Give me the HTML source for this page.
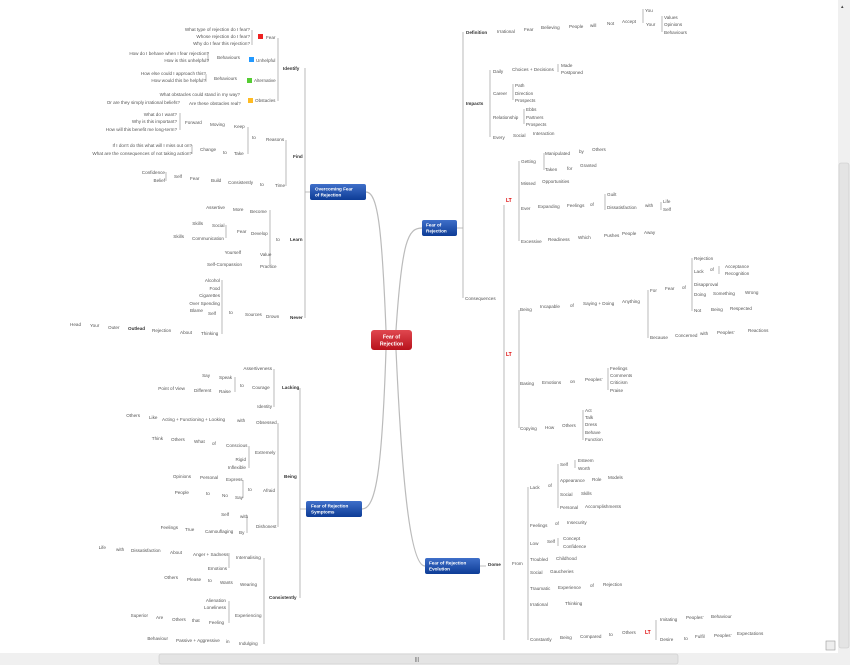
<!DOCTYPE html>
<html><head><meta charset="utf-8"><style>
html,body{margin:0;padding:0;background:#fff;}
svg{display:block;font-family:"Liberation Sans",sans-serif;}
text{font-size:4.6px;fill:#555;}
.b{font-weight:bold;fill:#333;}
.e{text-anchor:end;}
.l{stroke:#aaa;stroke-width:0.8;fill:none;}
.c{stroke:#bbb;stroke-width:1.2;fill:none;}
.r{fill:#d00;font-weight:bold;}
</style></head><body>
<svg width="850" height="665" viewBox="0 0 850 665">
<defs>
<linearGradient id="bl" x1="0" y1="0" x2="0" y2="1"><stop offset="0" stop-color="#3f6fc9"/><stop offset="1" stop-color="#0d3c96"/></linearGradient>
<linearGradient id="rd" x1="0" y1="0" x2="0" y2="1"><stop offset="0" stop-color="#e0474f"/><stop offset="1" stop-color="#b8121c"/></linearGradient>
</defs>
<path class="c" d="M386 330 C382 230 378 192 366 192"/>
<path class="c" d="M396 330 C402 240 408 228 422 228"/>
<path class="c" d="M386 350 C382 470 376 509 362 509"/>
<path class="c" d="M396 350 C402 480 410 566 425 566"/>
<rect x="371" y="330" width="41" height="20" rx="3" fill="url(#rd)"/>
<text x="391.5" y="338.5" style="fill:#fff;font-weight:bold;font-size:5.2px;text-anchor:middle">Fear of</text>
<text x="391.5" y="345.5" style="fill:#fff;font-weight:bold;font-size:5.2px;text-anchor:middle">Rejection</text>
<rect x="310" y="184" width="56" height="16" rx="2" fill="url(#bl)"/>
<text x="315" y="190.5" style="fill:#fff;font-weight:bold;font-size:4.6px">Overcoming Fear</text>
<text x="315" y="196.5" style="fill:#fff;font-weight:bold;font-size:4.6px">of Rejection</text>
<rect x="422" y="220" width="35" height="16" rx="2" fill="url(#bl)"/>
<text x="426" y="226.5" style="fill:#fff;font-weight:bold;font-size:4.6px">Fear of</text>
<text x="426" y="232.5" style="fill:#fff;font-weight:bold;font-size:4.6px">Rejection</text>
<rect x="306" y="501" width="56" height="16" rx="2" fill="url(#bl)"/>
<text x="311" y="507.5" style="fill:#fff;font-weight:bold;font-size:4.6px">Fear of Rejection</text>
<text x="311" y="513.5" style="fill:#fff;font-weight:bold;font-size:4.6px">Symptoms</text>
<rect x="425" y="558" width="55" height="16" rx="2" fill="url(#bl)"/>
<text x="429" y="564.5" style="fill:#fff;font-weight:bold;font-size:4.6px">Fear of Rejection</text>
<text x="429" y="570.5" style="fill:#fff;font-weight:bold;font-size:4.6px">Evolution</text>

<path class="l" d="M305 68 V318 M305 192 H310 M278 38 V101 M286 140 V186 M270 210 V267 M222 280 V334 M252 30 V45 M248 127 V154 M226 225 V238 M208 52 V62 M206 74 V82 M180 113 V130 M192 145 V154 M166 172 V181"/>
<text x="250" y="31" class="e">What type of rejection do I fear?</text>
<text x="250" y="38" class="e">Whose rejection do I fear?</text>
<text x="250" y="45" class="e">Why do I fear this rejection?</text>
<rect x="258" y="34" width="5" height="5" fill="#e22"/><text x="266" y="39">Fear</text>
<text x="209" y="55" class="e">How do I behave when I fear rejection?</text>
<text x="209" y="62" class="e">How is this unhelpful?</text>
<text x="217" y="59">Behaviours</text>
<rect x="249" y="57" width="5" height="5" fill="#29f"/><text x="256" y="62">Unhelpful</text>
<text x="206" y="75" class="e">How else could I approach this?</text>
<text x="206" y="82" class="e">How would this be helpful?</text>
<text x="214" y="80">Behaviours</text>
<rect x="247" y="78" width="5" height="5" fill="#5c3"/><text x="254" y="82">Alternative</text>
<text x="240" y="96" class="e">What obstacles could stand in my way?</text>
<text x="180" y="104" class="e">Or are they simply irrational beliefs?</text>
<text x="189" y="105">Are these obstacles real?</text>
<rect x="248" y="98" width="5" height="5" fill="#fb2"/><text x="255" y="102">Obstacles</text>
<text x="283" y="70" class="b">Identify</text>
<text x="177" y="116" class="e">What do I want?</text>
<text x="177" y="123" class="e">Why is this important?</text>
<text x="177" y="131" class="e">How will this benefit me long-term?</text>
<text x="185" y="124">Forward</text><text x="210" y="126">Moving</text><text x="234" y="128">Keep</text>
<text x="192" y="147" class="e">If I don't do this what will I miss out on?</text>
<text x="192" y="155" class="e">What are the consequences of not taking action?</text>
<text x="200" y="151">Change</text><text x="223" y="154">to</text><text x="234" y="155">Take</text>
<text x="252" y="139">to</text><text x="266" y="141">Reasons</text>
<text x="165" y="174" class="e">Confidence</text><text x="165" y="182" class="e">Belief</text>
<text x="174" y="178">Self</text><text x="190" y="180">Fear</text><text x="211" y="182">Build</text><text x="228" y="184">Consistently</text><text x="260" y="186">to</text><text x="275" y="187">Time</text>
<text x="293" y="158" class="b">Find</text>
<text x="225" y="209" class="e">Assertive</text><text x="233" y="211">More</text><text x="250" y="213">Become</text>
<text x="203" y="225" class="e">Skills</text><text x="212" y="227">Social</text>
<text x="184" y="238" class="e">Skills</text><text x="192" y="240">Communication</text>
<text x="237" y="233">Fear</text><text x="251" y="235">Develop</text>
<text x="241" y="254" class="e">Yourself</text><text x="260" y="256">Value</text>
<text x="242" y="266" class="e">Self-Compassion</text><text x="260" y="268">Practice</text>
<text x="276" y="241">to</text><text x="290" y="241" class="b">Learn</text>
<text x="220" y="282" class="e">Alcohol</text><text x="220" y="290" class="e">Food</text><text x="220" y="297" class="e">Cigarettes</text><text x="220" y="305" class="e">Over Spending</text>
<text x="203" y="312" class="e">Blame</text><text x="208" y="315">Self</text><text x="229" y="314">to</text><text x="245" y="316">Sources</text><text x="266" y="318">Drown</text><text x="290" y="319" class="b">Never</text>
<text x="81" y="326" class="e">Head</text><text x="90" y="327">Your</text><text x="108" y="329">Outer</text><text x="128" y="330" class="b">Outlead</text><text x="152" y="332">Rejection</text><text x="180" y="334">About</text><text x="201" y="335">Thinking</text>

<path class="l" d="M463 32 V298 M457 228 H463 M643 9 V23 M662 16 V32 M490 70 V137 M558 64 V72 M513 84 V100 M524 109 V124 M504 205 V640 M519 161 V241 M544 153 V170 M605 194 V210 M661 202 V210 M519 310 V428 M648 290 V338 M692 258 V311 M719 266 V274 M608 368 V390 M583 410 V440"/>
<text x="466" y="34" class="b">Definition</text><text x="497" y="33">Irrational</text><text x="524" y="31">Fear</text><text x="541" y="29">Believing</text><text x="569" y="28">People</text><text x="590" y="27">will</text><text x="607" y="25">Not</text><text x="622" y="23">Accept</text>
<text x="645" y="12">You</text><text x="646" y="26">Your</text><text x="664" y="19">Values</text><text x="664" y="26">Opinions</text><text x="664" y="34">Behaviours</text>
<text x="466" y="105" class="b">Impacts</text>
<text x="493" y="73">Daily</text><text x="512" y="71">Choices + Decisions</text><text x="561" y="67">Made</text><text x="561" y="74">Postponed</text>
<text x="493" y="95">Career</text><text x="515" y="87">Path</text><text x="515" y="95">Direction</text><text x="515" y="102">Prospects</text>
<text x="493" y="119">Relationship</text><text x="526" y="111">Ebbs</text><text x="526" y="119">Partners</text><text x="526" y="126">Prospects</text>
<text x="493" y="139">Every</text><text x="513" y="137">Social</text><text x="533" y="135">Interaction</text>
<text x="465" y="300">Consequences</text>
<text x="506" y="202" class="r" style="font-size:5px">LT</text>
<text x="521" y="163">Getting</text><text x="545" y="155">Manipulated</text><text x="579" y="153">by</text><text x="592" y="151">Others</text>
<text x="545" y="171">Taken</text><text x="567" y="170">for</text><text x="580" y="167">Granted</text>
<text x="521" y="185">Missed</text><text x="542" y="183">Opportunities</text>
<text x="521" y="210">Ever</text><text x="538" y="208">Expanding</text><text x="567" y="207">Feelings</text><text x="590" y="206">of</text><text x="607" y="196">Guilt</text><text x="607" y="209">Dissatisfaction</text><text x="645" y="207">with</text><text x="663" y="203">Life</text><text x="663" y="211">Self</text>
<text x="521" y="243">Excessive</text><text x="548" y="241">Readiness</text><text x="578" y="239">Which</text><text x="604" y="237">Pushes</text><text x="622" y="235">People</text><text x="644" y="234">Away</text>
<text x="506" y="356" class="r" style="font-size:5px">LT</text>
<text x="520" y="311">Being</text><text x="540" y="308">Incapable</text><text x="570" y="307">of</text><text x="583" y="305">Saying + Doing</text><text x="622" y="303">Anything</text>
<text x="650" y="292">For</text><text x="665" y="290">Fear</text><text x="682" y="289">of</text>
<text x="694" y="260">Rejection</text><text x="694" y="273">Lack</text><text x="710" y="271">of</text><text x="725" y="268">Acceptance</text><text x="725" y="275">Recognition</text>
<text x="694" y="286">Disapproval</text><text x="694" y="296">Doing</text><text x="713" y="295">Something</text><text x="745" y="294">Wrong</text>
<text x="694" y="312">Not</text><text x="711" y="311">Being</text><text x="730" y="310">Respected</text>
<text x="650" y="339">Because</text><text x="675" y="337">Concerned</text><text x="700" y="335">with</text><text x="717" y="334">Peoples'</text><text x="748" y="332">Reactions</text>
<text x="520" y="385">Basing</text><text x="542" y="384">Emotions</text><text x="570" y="383">on</text><text x="585" y="381">Peoples'</text>
<text x="610" y="370">Feelings</text><text x="610" y="377">Comments</text><text x="610" y="384">Criticism</text><text x="610" y="392">Praise</text>
<text x="520" y="430">Copying</text><text x="545" y="429">How</text><text x="562" y="427">Others</text>
<text x="585" y="412">Act</text><text x="585" y="419">Talk</text><text x="585" y="426">Dress</text><text x="585" y="434">Behave</text><text x="585" y="441">Function</text>

<path class="l" d="M480 566 H486 M528 487 V640 M558 464 V508 M575 460 V468 M558 538 V546 M656 620 V640"/>
<text x="488" y="566" class="b">Dome</text><text x="512" y="565">From</text>
<text x="530" y="489">Lack</text><text x="548" y="487">of</text>
<text x="560" y="466">Self</text><text x="578" y="462">Esteem</text><text x="578" y="470">Worth</text>
<text x="560" y="482">Appearance</text><text x="592" y="481">Role</text><text x="608" y="479">Models</text>
<text x="560" y="496">Social</text><text x="581" y="495">Skills</text>
<text x="560" y="509">Personal</text><text x="585" y="508">Accomplishments</text>
<text x="530" y="527">Feelings</text><text x="555" y="525">of</text><text x="567" y="524">Insecurity</text>
<text x="530" y="545">Low</text><text x="547" y="543">Self</text><text x="563" y="540">Concept</text><text x="563" y="548">Confidence</text>
<text x="530" y="561">Troubled</text><text x="556" y="560">Childhood</text>
<text x="530" y="574">Social</text><text x="550" y="573">Gaucheries</text>
<text x="530" y="590">Traumatic</text><text x="558" y="589">Experience</text><text x="590" y="587">of</text><text x="603" y="586">Rejection</text>
<text x="530" y="606">Irrational</text><text x="565" y="605">Thinking</text>
<text x="530" y="641">Constantly</text><text x="560" y="639">Being</text><text x="580" y="638">Compared</text><text x="609" y="636">to</text><text x="622" y="634">Others</text>
<text x="645" y="634" class="r" style="font-size:5px">LT</text>
<text x="660" y="621">Imitating</text><text x="686" y="619">Peoples'</text><text x="711" y="618">Behaviour</text>
<text x="660" y="641">Desire</text><text x="684" y="640">to</text><text x="695" y="638">Fulfil</text><text x="714" y="637">Peoples'</text><text x="737" y="635">Expectations</text>

<path class="l" d="M300 388 V598 M300 509 H306 M274 369 V407 M235 377 V392 M278 423 V527 M249 446 V468 M243 480 V498 M247 517 V533 M264 558 V644 M229 553 V568 M229 601 V623"/>
<text x="272" y="370" class="e">Assertiveness</text>
<text x="210" y="377" class="e">Say</text><text x="219" y="379">Speak</text>
<text x="185" y="390" class="e">Point of View</text><text x="194" y="392">Different</text><text x="219" y="393">Raise</text>
<text x="240" y="387">to</text><text x="252" y="389">Courage</text><text x="272" y="408" class="e">Identity</text>
<text x="282" y="389" class="b">Lacking</text>
<text x="140" y="417" class="e">Others</text><text x="149" y="419">Like</text><text x="162" y="421">Acting + Functioning + Looking</text><text x="237" y="422">with</text><text x="256" y="424">Obsessed</text>
<text x="163" y="440" class="e">Think</text><text x="171" y="441">Others</text><text x="194" y="443">What</text><text x="212" y="445">of</text><text x="226" y="447">Conscious</text>
<text x="255" y="454">Extremely</text><text x="246" y="461" class="e">Rigid</text><text x="246" y="469" class="e">Inflexible</text>
<text x="191" y="478" class="e">Opinions</text><text x="200" y="479">Personal</text><text x="226" y="481">Express</text>
<text x="189" y="494" class="e">People</text><text x="206" y="495">to</text><text x="222" y="497">No</text><text x="235" y="499">Say</text>
<text x="248" y="491">to</text><text x="263" y="492">Afraid</text>
<text x="229" y="516" class="e">Self</text><text x="240" y="518">with</text>
<text x="178" y="529" class="e">Feelings</text><text x="185" y="531">True</text><text x="205" y="533">Camouflaging</text><text x="239" y="534">By</text>
<text x="256" y="528">Dishonest</text>
<text x="284" y="478" class="b">Being</text>
<text x="106" y="549" class="e">Life</text><text x="116" y="551">with</text><text x="131" y="552">Dissatisfaction</text><text x="170" y="554">About</text><text x="193" y="556">Anger + Sadness</text>
<text x="236" y="559">Internalising</text><text x="227" y="570" class="e">Emotions</text>
<text x="178" y="579" class="e">Others</text><text x="187" y="581">Please</text><text x="208" y="582">to</text><text x="220" y="584">Wants</text><text x="240" y="586">Wearing</text>
<text x="226" y="602" class="e">Alienation</text><text x="226" y="609" class="e">Loneliness</text>
<text x="148" y="617" class="e">Superior</text><text x="156" y="619">Are</text><text x="172" y="621">Others</text><text x="192" y="622">that</text><text x="209" y="624">Feeling</text>
<text x="235" y="617">Experiencing</text>
<text x="168" y="640" class="e">Behaviour</text><text x="176" y="642">Passive + Aggressive</text><text x="226" y="643">in</text><text x="239" y="645">Indulging</text>
<text x="269" y="599" class="b">Consistently</text>

<rect x="838" y="0" width="12" height="653" fill="#f0f0f0"/>
<rect x="839" y="163" width="10" height="485" rx="2" fill="#e4e4e4" stroke="#c8c8c8" stroke-width="0.6"/>
<text x="841" y="8" style="font-size:5px;fill:#444">▴</text>
<rect x="0" y="653" width="850" height="12" fill="#f0f0f0"/>
<rect x="159" y="654" width="519" height="10" rx="2" fill="#e4e4e4" stroke="#c8c8c8" stroke-width="0.6"/>
<text x="415" y="661" style="font-size:5px;fill:#444">|||</text>
<rect x="826" y="641" width="9" height="9" fill="#eee" stroke="#999" stroke-width="0.6"/>
</svg>
</body></html>
